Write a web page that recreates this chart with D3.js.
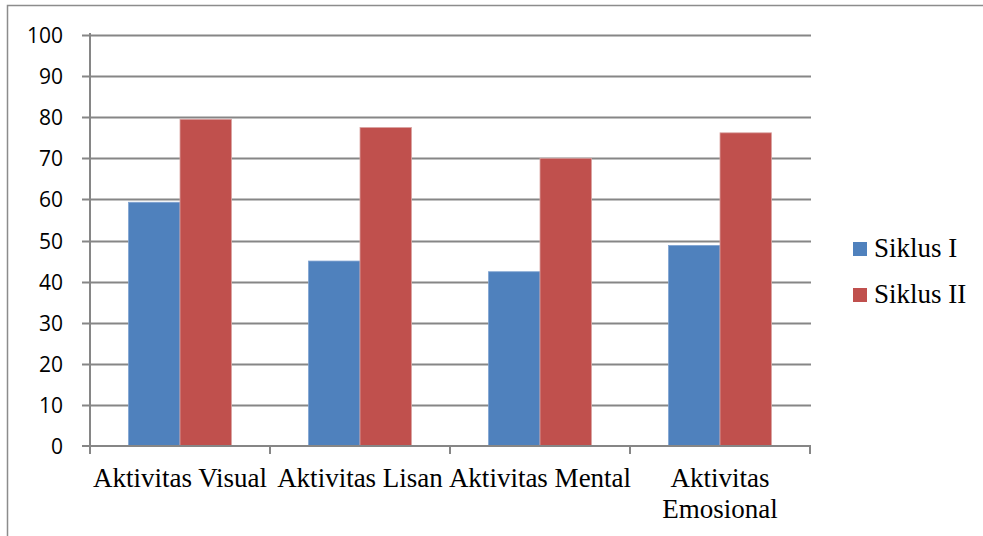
<!DOCTYPE html>
<html>
<head>
<meta charset="utf-8">
<script src="https://cdn.jsdelivr.net/npm/d3@7"></script>
<style>
  body { margin: 0; background: #fff; }
  svg { display: block; }
</style>
</head>
<body>
<div id="chart"></div>
<script>
// data
const categories = ["Aktivitas Visual", "Aktivitas Lisan", "Aktivitas Mental", "Aktivitas Emosional"];
const seriesNames = ["Siklus I", "Siklus II"];
const siklus1 = [59.3, 45.0, 42.4, 48.8];
const siklus2 = [79.5, 77.5, 70.0, 76.2];
const yTicks = [0, 10, 20, 30, 40, 50, 60, 70, 80, 90, 100];
const colors = ["#4F81BD", "#C0504D"];

const width = 983;
const height = 536;
const plot = { left: 90, right: 810, top: 35, bottom: 446 };

const svg = d3.select("#chart").append("svg")
    .attr("width", width)
    .attr("height", height);

// outer chart border (runs off the right and bottom edges)
svg.append("rect")
    .attr("x", 7.5).attr("y", 5.5)
    .attr("width", 1000).attr("height", 600)
    .attr("fill", "none")
    .attr("stroke", "#8c8c8c")
    .attr("stroke-width", 1.5);

//----------------------------SCALES-----------------------------//
const xScale = d3.scaleBand().domain(categories).range([plot.left, plot.right]);
const yScale = d3.scaleLinear().domain([0, 100]).range([plot.bottom, plot.top]);
const barW = 51.5;
const xSub = d3.scaleBand().domain(seriesNames)
    .range([xScale.bandwidth() / 2 - barW, xScale.bandwidth() / 2 + barW]);

//-----------------------------GRID------------------------------//
svg.append("g")
    .selectAll("line")
    .data(yTicks.filter(d => d > 0))
    .join("line")
    .attr("x1", plot.left - 8)
    .attr("x2", plot.right + 1)
    .attr("y1", d => Math.round(yScale(d)) + 0.5)
    .attr("y2", d => Math.round(yScale(d)) + 0.5)
    .attr("stroke", "#868686")
    .attr("stroke-width", 2);

//-----------------------------BARS------------------------------//
const rows = categories.map((c, i) => ({ cat: c, vals: [siklus1[i], siklus2[i]] }));
const groups = svg.append("g")
    .selectAll("g")
    .data(rows)
    .join("g")
    .attr("transform", d => "translate(" + xScale(d.cat) + ",0)");

groups.selectAll("rect")
    .data(d => d.vals.map((v, j) => ({ name: seriesNames[j], v: v, j: j })))
    .join("rect")
    .attr("x", d => xSub(d.name))
    .attr("width", xSub.bandwidth())
    .attr("y", d => yScale(d.v))
    .attr("height", d => yScale(0) - yScale(d.v))
    .attr("fill", d => colors[d.j])
    .attr("stroke", d => d.j === 0 ? "#7fa3d1" : "#d9a3a2")
    .attr("stroke-width", 0.8);

//-----------------------------AXES------------------------------//
const yaxis = d3.axisLeft(yScale).tickValues(yTicks).tickSize(8).tickPadding(8);
const gy = svg.append("g")
    .attr("transform", "translate(" + plot.left + ",0)")
    .call(yaxis);
gy.select(".domain").remove();
gy.selectAll(".tick line").remove();
gy.selectAll("text")
    .attr("x", -27)
    .attr("dy", "0.36em")
    .attr("fill", "#000")
    .style("font-family", "'Open Sans', 'Liberation Sans', sans-serif")
    .style("font-size", "21px");

svg.append("line")
    .attr("x1", plot.left).attr("x2", plot.left)
    .attr("y1", plot.top - 2).attr("y2", plot.bottom + 8)
    .attr("stroke", "#868686").attr("stroke-width", 2);

const xaxis = d3.axisBottom(xScale).tickSize(0).tickFormat("");
const gx = svg.append("g")
    .attr("transform", "translate(0," + plot.bottom + ")")
    .call(xaxis);
gx.select(".domain").attr("stroke", "#868686").attr("stroke-width", 2)
    .attr("d", "M" + (plot.left - 8) + ",0H" + (plot.right + 1));

// category boundary ticks
svg.append("g")
    .selectAll("line")
    .data(categories.concat(["end"]))
    .join("line")
    .attr("x1", (d, i) => i < categories.length ? xScale(d) : plot.right)
    .attr("x2", (d, i) => i < categories.length ? xScale(d) : plot.right)
    .attr("y1", plot.bottom)
    .attr("y2", plot.bottom + 8)
    .attr("stroke", "#868686").attr("stroke-width", 2);

// category labels (last one wraps)
const labelLines = categories.map(c => c === "Aktivitas Emosional" ? ["Aktivitas", "Emosional"] : [c]);
svg.append("g")
    .selectAll("text")
    .data(categories)
    .join("text")
    .attr("x", d => xScale(d) + xScale.bandwidth() / 2)
    .attr("y", plot.bottom + 41)
    .attr("text-anchor", "middle")
    .style("font-family", "'Liberation Serif', 'Times New Roman', serif")
    .style("font-size", "27px")
    .attr("fill", "#000")
    .selectAll("tspan")
    .data((d, i) => labelLines[i])
    .join("tspan")
    .attr("x", function() { return d3.select(this.parentNode).attr("x"); })
    .attr("dy", (d, i) => i === 0 ? 0 : 31)
    .text(d => d);

//----------------------------LEGEND-----------------------------//
const legend = svg.append("g")
    .selectAll("g")
    .data(seriesNames)
    .join("g")
    .attr("transform", (d, i) => "translate(853," + (242 + i * 46) + ")");
legend.append("rect")
    .attr("width", 14).attr("height", 14)
    .attr("fill", (d, i) => colors[i]);
legend.append("text")
    .attr("x", 21).attr("y", 15)
    .style("font-family", "'Liberation Serif', 'Times New Roman', serif")
    .style("font-size", "27px")
    .attr("fill", "#000")
    .text(d => d);
</script>
</body>
</html>
